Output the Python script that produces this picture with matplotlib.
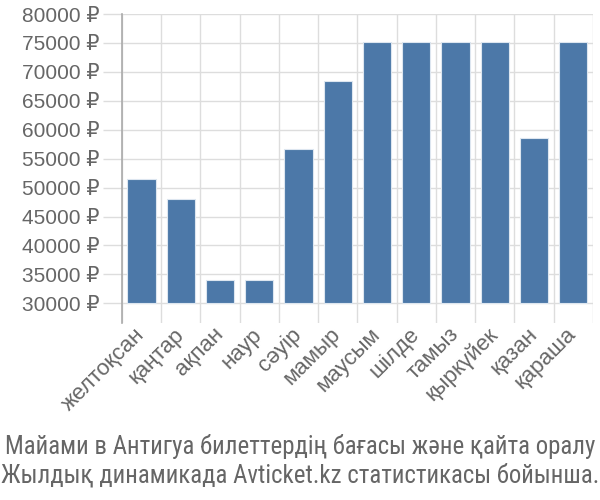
import matplotlib
matplotlib.use("Agg")
import matplotlib.pyplot as plt
import numpy as np

plt.rcParams["font.family"] = ["Liberation Sans", "DejaVu Sans"]

# data
months = ["желтоқсан", "қаңтар", "ақпан", "наур", "сәуір", "мамыр",
          "маусым", "шілде", "тамыз", "қыркүйек", "қазан", "қараша"]
prices = [51500, 48100, 34100, 34100, 56600, 68400,
          75100, 75100, 75100, 75100, 58500, 75100]
yticks = [30000, 35000, 40000, 45000, 50000, 55000, 60000, 65000, 70000, 75000, 80000]
title_lines = ["Майами в Антигуа билеттердің бағасы және қайта оралу",
               "Жылдық динамикада Avticket.kz статистикасы бойынша."]

base = 30000
fig = plt.figure(figsize=(6, 5), dpi=100)
ax = fig.add_axes([0.203, 0.354, 0.785, 0.618])

x = np.arange(len(months))
ax.bar(x, [p - base for p in prices], bottom=base, width=0.72,
       color="#4c78a8", edgecolor="#dde6f0", linewidth=0.8, zorder=3)

ax.set_xlim(-0.5, len(months) - 0.5)
ax.set_ylim(26600, 80000)

ax.set_yticks(yticks)
ax.set_yticklabels([f"{v} ₽" for v in yticks], fontsize=15, color="#666666")
ax.tick_params(axis="y", length=14, color="#dddddd", width=1, pad=2)

# category boundaries as gridlines
ax.set_xticks(np.arange(len(months) + 1) - 0.5, minor=True)
ax.set_xticks(x)
ax.set_xticklabels(months, rotation=45, ha="right", va="center",
                   rotation_mode="anchor", fontsize=16, color="#666666")
ax.tick_params(axis="x", which="major", length=0, pad=6)
ax.tick_params(axis="x", which="minor", length=0)
ax.grid(True, which="minor", axis="x", color="#dddddd", linewidth=1, zorder=0)
ax.grid(True, which="major", axis="y", color="#dddddd", linewidth=1, zorder=0)

for s in ["top", "right", "bottom"]:
    ax.spines[s].set_visible(False)
ax.spines["left"].set_color("#aaaaaa")
ax.spines["left"].set_linewidth(1.2)

tfont = ["Roboto Condensed", "DejaVu Sans"]
fig.text(0.5, 0.107, title_lines[0], ha="center", va="center",
         fontsize=17.9, color="#666666", family=tfont)
fig.text(0.5, 0.05, title_lines[1], ha="center", va="center",
         fontsize=17.9, color="#666666", family=tfont)

fig.savefig("out.png", dpi=100)
